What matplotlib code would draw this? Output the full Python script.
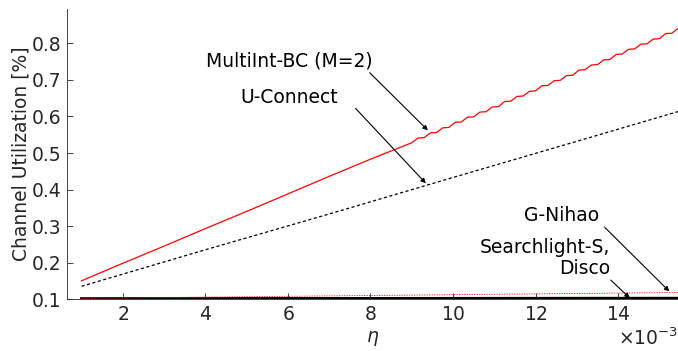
import numpy as np
import matplotlib
matplotlib.use("Agg")
import matplotlib.pyplot as plt
from matplotlib.ticker import ScalarFormatter

# eta in units of 1e-3 (scaled back below)
eta_lin = [1, 2, 3, 4, 5, 6, 7, 8]
multi_lin = [0.150, 0.198, 0.245, 0.293, 0.340, 0.388, 0.436, 0.483]

# staircase wiggle part of MultiInt-BC
eta_stair = list(np.arange(9.0, 15.61, 0.15))
multi_stair = [0.528, 0.541, 0.542, 0.555, 0.556, 0.569, 0.570, 0.584, 0.585,
               0.598, 0.599, 0.612, 0.613, 0.626, 0.627, 0.641, 0.642, 0.655,
               0.656, 0.669, 0.670, 0.684, 0.685, 0.698, 0.699, 0.712, 0.713,
               0.727, 0.728, 0.741, 0.742, 0.755, 0.756, 0.770, 0.771, 0.784,
               0.785, 0.798, 0.799, 0.812, 0.813, 0.827, 0.828, 0.841, 0.842]

eta_u = [1, 4, 7, 10, 13, 15.5]
uconnect = [0.135, 0.235, 0.333, 0.433, 0.532, 0.615]

eta_low = [1, 15.5]
gnihao = [0.102, 0.118]
searchlight = [0.101, 0.102]

eta_m = np.array(eta_lin + eta_stair) * 1e-3
multi = multi_lin + multi_stair

fs = 13.5
tc = '#262626'

fig = plt.figure(figsize=(6.78, 3.51), dpi=100)
ax = fig.add_axes([0.099, 0.148, 0.901, 0.827])

ax.plot(eta_m, multi, color='#ff0000', lw=0.9)
ax.plot(np.array(eta_u) * 1e-3, uconnect, color='black', lw=0.9, ls=(0, (2.5, 2)))
ax.plot(np.array(eta_low) * 1e-3, searchlight, color='black', lw=2.2)
ax.plot(np.array(eta_low) * 1e-3, gnihao, color='#ff0000', lw=0.6, ls=(0, (1.5, 1.5)))

ax.set_xlim(0.65e-3, 15.45e-3)
ax.set_ylim(0.1, 0.895)
ax.set_xticks(np.array([2, 4, 6, 8, 10, 12, 14]) * 1e-3)
ax.set_yticks([0.1, 0.2, 0.3, 0.4, 0.5, 0.6, 0.7, 0.8])
fmt = ScalarFormatter(useMathText=True)
fmt.set_powerlimits((-3, -3))
ax.xaxis.set_major_formatter(fmt)

for s in ['top', 'right']:
    ax.spines[s].set_visible(False)
for s in ['left', 'bottom']:
    ax.spines[s].set_color(tc)
    ax.spines[s].set_linewidth(0.6)
ax.tick_params(direction='in', length=4, width=0.6, colors=tc, labelsize=fs, pad=4)
ax.xaxis.get_offset_text().set_fontsize(fs)
ax.xaxis.get_offset_text().set_color(tc)

ax.set_ylabel('Channel Utilization [%]', fontsize=fs, color=tc, labelpad=1)
ax.set_xlabel(r'$\eta$', fontsize=fs, color=tc, labelpad=4)

# labels and arrows drawn separately (arrow starts at text corner like the original)
arrow = dict(arrowstyle='-|>', color='black', lw=0.8, mutation_scale=7,
             shrinkA=0, shrinkB=0)
ax.text(6.04e-3, 0.753, 'MultiInt-BC (M=2)', ha='center', va='center', fontsize=fs)
ax.annotate('', xy=(9.39e-3, 0.562), xytext=(7.98e-3, 0.720), arrowprops=arrow)
ax.text(6.04e-3, 0.652, 'U-Connect', ha='center', va='center', fontsize=fs)
ax.annotate('', xy=(9.34e-3, 0.417), xytext=(7.64e-3, 0.622), arrowprops=arrow)
ax.text(12.63e-3, 0.330, 'G-Nihao', ha='center', va='center', fontsize=fs)
ax.annotate('', xy=(15.24e-3, 0.121), xytext=(13.67e-3, 0.297), arrowprops=arrow)
ax.text(13.8e-3, 0.213, 'Searchlight-S,\nDisco', ha='right', va='center',
        fontsize=fs, linespacing=1.1)
ax.annotate('', xy=(14.28e-3, 0.103), xytext=(13.82e-3, 0.152), arrowprops=arrow)

fig.savefig('out.png', dpi=100)
